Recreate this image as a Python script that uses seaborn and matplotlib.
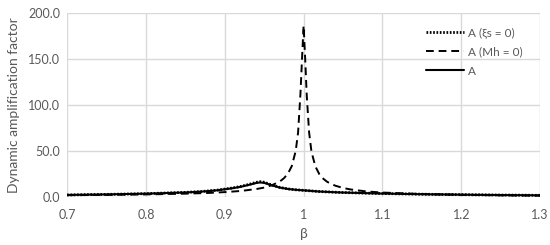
import matplotlib
matplotlib.use("Agg")
import matplotlib.pyplot as plt
import seaborn as sns
import pandas as pd
from matplotlib.ticker import FormatStrFormatter, FuncFormatter

# ---- data ----
beta_mh = [0.70, 0.75, 0.80, 0.85, 0.88, 0.90, 0.92, 0.94, 0.95, 0.96, 0.97, 0.975,
           0.98, 0.985, 0.99, 0.993, 0.996, 0.998, 1.0, 1.002, 1.004, 1.007, 1.01,
           1.015, 1.02, 1.025, 1.03, 1.04, 1.05, 1.06, 1.08, 1.10, 1.15, 1.20, 1.25, 1.30]
a_mh0 = [1.96, 2.28, 2.78, 3.6, 4.4, 5.3, 6.5, 8.6, 10.2, 12.8, 16.9, 20.3,
         25.2, 33.5, 50.0, 70.0, 112.0, 150.0, 186.0, 150.0, 110.0, 70.0, 49.0,
         33.0, 24.7, 19.8, 16.4, 12.3, 9.8, 8.1, 6.0, 4.8, 3.2, 2.3, 1.8, 1.45]

beta_a = [0.70, 0.75, 0.80, 0.85, 0.87, 0.89, 0.91, 0.92, 0.93, 0.94, 0.945, 0.95,
          0.955, 0.96, 0.97, 0.98, 0.99, 1.0, 1.02, 1.05, 1.10, 1.15, 1.20, 1.25, 1.30]
a_xs0 = [2.2, 2.8, 3.6, 5.0, 5.9, 7.4, 9.8, 11.4, 13.5, 15.9, 16.6, 16.0,
         14.5, 12.9, 10.3, 8.8, 7.8, 7.2, 5.9, 4.8, 3.7, 3.0, 2.5, 2.1, 1.8]
a_full = [2.2, 2.8, 3.6, 4.9, 5.8, 7.2, 9.5, 11.0, 13.0, 15.2, 15.8, 15.3,
          14.0, 12.6, 10.2, 8.7, 7.8, 7.2, 5.9, 4.8, 3.7, 3.0, 2.5, 2.1, 1.8]

labels = ["A (ξs = 0)", "A (Mh = 0)", "A"]
x_ticks = [0.7, 0.8, 0.9, 1.0, 1.1, 1.2, 1.3]
y_ticks = [0, 50, 100, 150, 200]

sns.set_theme(style="white")
plt.rcParams["font.family"] = ["Lato", "DejaVu Sans"]

fig = plt.figure(figsize=(5.5, 2.45), dpi=100)
ax = fig.add_axes([0.122, 0.196, 0.860, 0.752])

df_xs = pd.DataFrame({"beta": beta_a, "A": a_xs0})
df_mh = pd.DataFrame({"beta": beta_mh, "A": a_mh0})
df_a = pd.DataFrame({"beta": beta_a, "A": a_full})

sns.lineplot(data=df_xs, x="beta", y="A", ax=ax, color="black", lw=2.0,
             linestyle=(0, (0.6, 0.6)), label=labels[0])
sns.lineplot(data=df_mh, x="beta", y="A", ax=ax, color="black", lw=1.4,
             linestyle=(0, (4, 2.5)), label=labels[1])
sns.lineplot(data=df_a, x="beta", y="A", ax=ax, color="black", lw=1.5,
             linestyle="-", label=labels[2])

ax.set_xlim(0.7, 1.3)
ax.set_ylim(0, 200)
ax.set_xticks(x_ticks)
ax.set_yticks(y_ticks)
ax.xaxis.set_major_formatter(FuncFormatter(lambda v, p: ("%g" % round(v, 2))))
ax.yaxis.set_major_formatter(FormatStrFormatter("%.1f"))
ax.grid(True, color="#d9d9d9", lw=1.0)
for s in ax.spines.values():
    s.set_visible(False)
ax.tick_params(axis="both", length=0, labelsize=9, colors="#595959", pad=5)
ax.tick_params(axis="x", pad=9)
ax.set_xlabel("β", fontsize=10, color="#595959", labelpad=5)
ax.set_ylabel("Dynamic amplification factor", fontsize=10, color="#595959", labelpad=6)

leg = ax.legend(loc="upper right", frameon=False, fontsize=8.5, handlelength=3.2,
                labelspacing=0.7, handletextpad=0.3, bbox_to_anchor=(0.985, 0.98))
for t in leg.get_texts():
    t.set_color("#595959")

fig.savefig("out.png", dpi=100)
